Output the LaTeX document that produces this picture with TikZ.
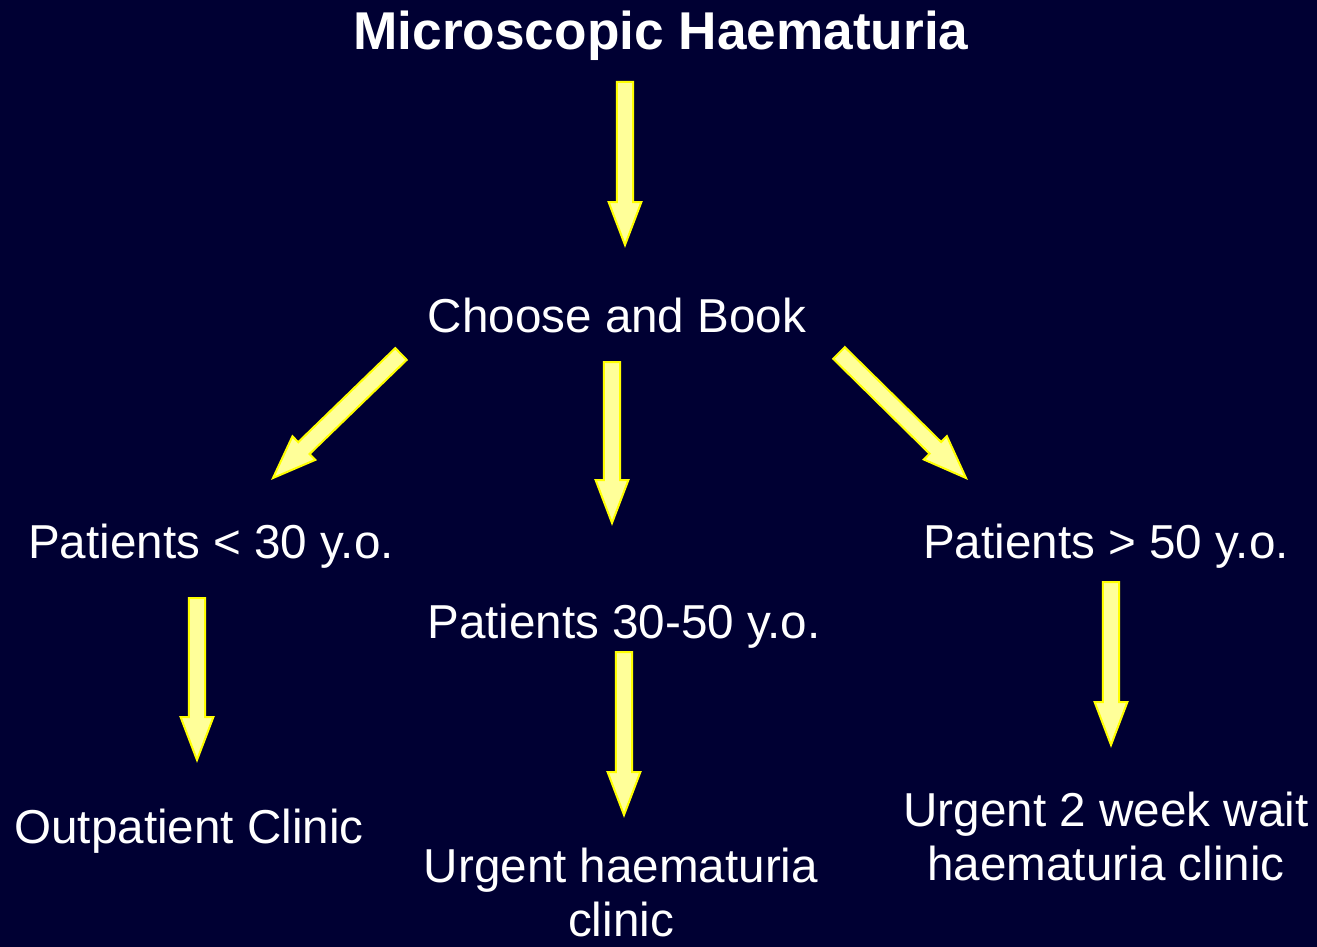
\documentclass[tikz,border=0pt]{standalone}
\usepackage{fontspec}
\setmainfont{Liberation Sans}
\usetikzlibrary{calc}

\definecolor{slidebg}{RGB}{0,0,51}
\definecolor{arrowfill}{RGB}{255,255,153}
\definecolor{arrowedge}{RGB}{255,255,0}

% block arrow from #1 to #2 (both named coordinates)
\newcommand{\blockarrow}[2]{%
  \coordinate (ab) at ($(#2)!21.5pt!(#1)$);
  \draw[blockarrow] ($(#1)!4.1pt!90:(#2)$) -- ($(ab)!4.1pt!90:(#2)$)
    -- ($(ab)!8.2pt!90:(#2)$) -- (#2) -- ($(ab)!8.2pt!-90:(#2)$)
    -- ($(ab)!4.1pt!-90:(#2)$) -- ($(#1)!4.1pt!-90:(#2)$) -- cycle;
}

\begin{document}
\begin{tikzpicture}[
    x=0.5pt, y=-0.5pt,
    every node/.style={text=white, inner sep=0pt, font=\fontsize{23.8}{26.7}\selectfont},
    heading/.style={anchor=base, font=\fontsize{26.6}{30}\selectfont\bfseries},
    stage/.style={anchor=base, align=center},
    blockarrow/.style={draw=arrowedge, fill=arrowfill, line width=1pt, line join=miter},
]
\fill[slidebg] (0,0) rectangle (1317,947);
\useasboundingbox (0,0) rectangle (1317,947);

\node[heading] (title) at (661,50) {Microscopic Haematuria};
\node[stage] (choose) at (617,332) {Choose and Book};
\node[stage] (young) at (211,558) {Patients < 30 y.o.};
\node[stage] (middle) at (624,638) {Patients 30-50 y.o.};
\node[stage] (old) at (1106,558) {Patients > 50 y.o.};
\node[stage] (outpat) at (189,843) {Outpatient Clinic};
% base of a two-line node sits on its last line
\node[stage] (urgent) at (621,936) {Urgent haematuria\\clinic};
\node[stage] (twoweek) at (1106,880) {Urgent 2 week wait\\haematuria clinic};

% arrow ends
\coordinate (title-out) at (625,82);
\coordinate (choose-in) at (625,245);
\coordinate (choose-l) at (401,354);
\coordinate (young-in) at (273,478);
\coordinate (choose-m) at (612,362);
\coordinate (middle-in) at (612,523);
\coordinate (choose-r) at (839,353);
\coordinate (old-in) at (966,478);
\coordinate (young-out) at (197,598);
\coordinate (outpat-in) at (197,760);
\coordinate (middle-out) at (624,652);
\coordinate (urgent-in) at (624,815);
\coordinate (old-out) at (1111,582);
\coordinate (twoweek-in) at (1111,745);

\blockarrow{title-out}{choose-in}
\blockarrow{choose-l}{young-in}
\blockarrow{choose-m}{middle-in}
\blockarrow{choose-r}{old-in}
\blockarrow{young-out}{outpat-in}
\blockarrow{middle-out}{urgent-in}
\blockarrow{old-out}{twoweek-in}
\end{tikzpicture}
\end{document}
